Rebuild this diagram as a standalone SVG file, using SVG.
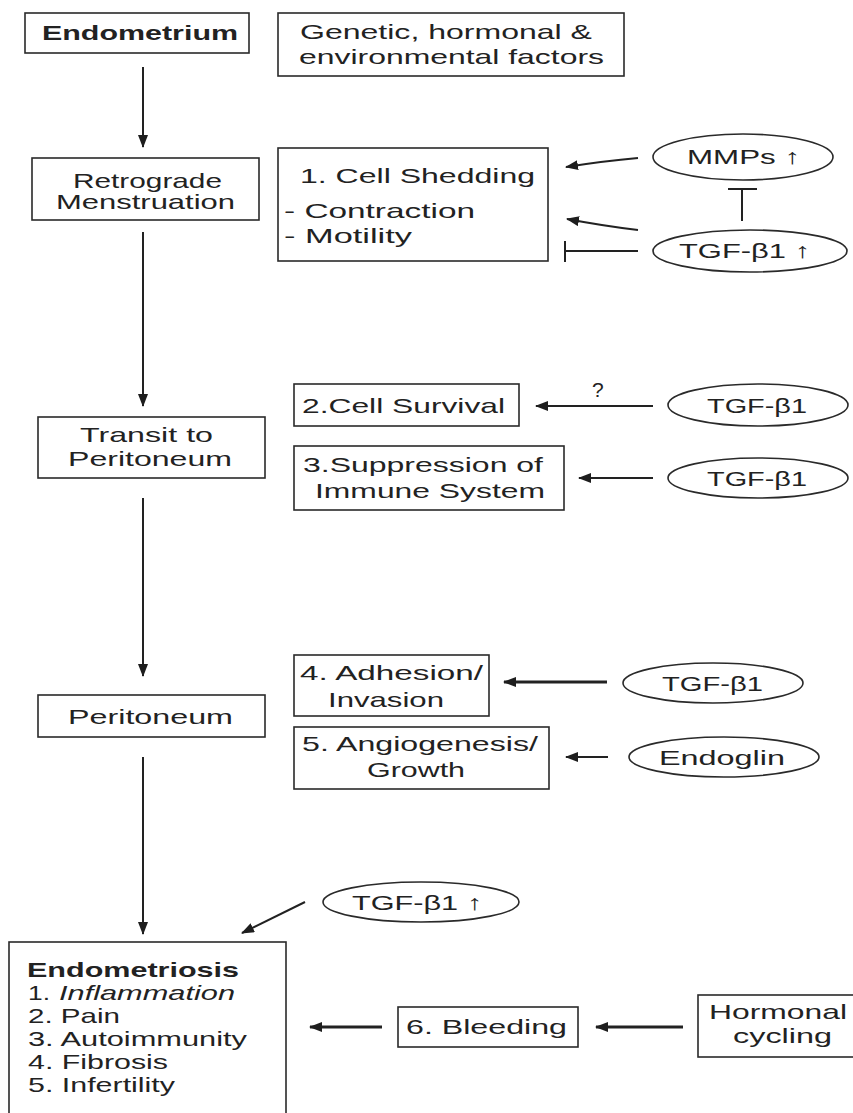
<svg xmlns="http://www.w3.org/2000/svg" width="853" height="1113" viewBox="0 0 853 1113">
<style>
text{font-family:"Liberation Sans",Arial,sans-serif;fill:#222;font-size:21px}
.b{font-weight:bold}
.box{fill:#fff;stroke:#2a2a2a;stroke-width:1.6}
.ell{fill:#fff;stroke:#2a2a2a;stroke-width:1.6}
.ln{fill:none;stroke:#222;stroke-width:2}
.thick{stroke-width:3}
</style>
<defs>
<marker id="ah" viewBox="0 0 13 10" refX="12" refY="5" markerWidth="13" markerHeight="10" markerUnits="userSpaceOnUse" orient="auto">
<path d="M0,0 L13,5 L0,10 z" fill="#1e1e1e"/>
</marker>
</defs>
<rect width="853" height="1113" fill="#fff"/>

<g id="connectors">
<line class="ln" x1="143" y1="67" x2="143" y2="147" marker-end="url(#ah)"/>
<line class="ln" x1="143" y1="232" x2="143" y2="406" marker-end="url(#ah)"/>
<line class="ln" x1="143" y1="498" x2="143" y2="676" marker-end="url(#ah)"/>
<line class="ln" x1="143" y1="757" x2="143" y2="934" marker-end="url(#ah)"/>
<path class="ln" d="M638,158 Q604,161 566,167" marker-end="url(#ah)"/>
<path class="ln" d="M638,230 Q604,226 567,219" marker-end="url(#ah)"/>
<line class="ln" x1="742" y1="221" x2="742" y2="190"/>
<line class="ln" x1="728" y1="189" x2="757" y2="189"/>
<line class="ln" x1="638" y1="251" x2="565" y2="251"/>
<line class="ln" x1="565" y1="241" x2="565" y2="262"/>
<line class="ln" x1="653" y1="406" x2="536" y2="406" marker-end="url(#ah)"/>
<line class="ln" x1="653" y1="478" x2="579" y2="478" marker-end="url(#ah)"/>
<line class="ln thick" x1="607" y1="682" x2="504" y2="682" marker-end="url(#ah)"/>
<line class="ln" x1="608" y1="757" x2="566" y2="757" marker-end="url(#ah)"/>
<line class="ln" x1="305" y1="902" x2="242" y2="933" marker-end="url(#ah)"/>
<line class="ln thick" x1="382" y1="1027" x2="310" y2="1027" marker-end="url(#ah)"/>
<line class="ln thick" x1="683" y1="1027" x2="596" y2="1027" marker-end="url(#ah)"/>
<text x="592" y="397" font-size="20">?</text>
</g>

<g id="endometrium">
<rect class="box" x="25" y="13" width="224" height="40"/>
<text class="b" x="42" y="40" font-size="19" textLength="196" lengthAdjust="spacingAndGlyphs">Endometrium</text>
</g>
<g id="factors">
<rect class="box" x="278" y="13" width="346" height="63"/>
<text x="300" y="39" textLength="292" lengthAdjust="spacingAndGlyphs">Genetic, hormonal &amp;</text>
<text x="299" y="64" textLength="305" lengthAdjust="spacingAndGlyphs">environmental factors</text>
</g>
<g id="retrograde">
<rect class="box" x="32" y="158" width="227" height="62"/>
<text x="73" y="188" textLength="149" lengthAdjust="spacingAndGlyphs">Retrograde</text>
<text x="56" y="209" textLength="179" lengthAdjust="spacingAndGlyphs">Menstruation</text>
</g>
<g id="shedding">
<rect class="box" x="278" y="148" width="270" height="113"/>
<text x="300" y="183" textLength="235" lengthAdjust="spacingAndGlyphs">1. Cell Shedding</text>
<text x="284" y="218" textLength="191" lengthAdjust="spacingAndGlyphs">- Contraction</text>
<text x="284" y="243" textLength="128" lengthAdjust="spacingAndGlyphs">- Motility</text>
</g>
<g id="mmps">
<ellipse class="ell" cx="743" cy="157" rx="90" ry="23"/>
<text x="687" y="164" font-size="22" textLength="113" lengthAdjust="spacingAndGlyphs">MMPs ↑</text>
</g>
<g id="tgf-up-1">
<ellipse class="ell" cx="750" cy="251" rx="97" ry="21"/>
<text x="679" y="258" font-size="22" textLength="131" lengthAdjust="spacingAndGlyphs">TGF-β1 ↑</text>
</g>
<g id="transit">
<rect class="box" x="38" y="417" width="227" height="61"/>
<text x="80" y="442" textLength="133" lengthAdjust="spacingAndGlyphs">Transit to</text>
<text x="68" y="466" textLength="164" lengthAdjust="spacingAndGlyphs">Peritoneum</text>
</g>
<g id="survival">
<rect class="box" x="294" y="384" width="225" height="42"/>
<text x="302" y="413" textLength="203" lengthAdjust="spacingAndGlyphs">2.Cell Survival</text>
</g>
<g id="tgf-2">
<ellipse class="ell" cx="758" cy="405" rx="90" ry="21"/>
<text x="707" y="413" font-size="22" textLength="100" lengthAdjust="spacingAndGlyphs">TGF-β1</text>
</g>
<g id="suppression">
<rect class="box" x="294" y="446" width="270" height="64"/>
<text x="303" y="472" textLength="240" lengthAdjust="spacingAndGlyphs">3.Suppression of</text>
<text x="315" y="498" textLength="230" lengthAdjust="spacingAndGlyphs">Immune System</text>
</g>
<g id="tgf-3">
<ellipse class="ell" cx="758" cy="478" rx="90" ry="20"/>
<text x="707" y="486" font-size="22" textLength="100" lengthAdjust="spacingAndGlyphs">TGF-β1</text>
</g>
<g id="peritoneum">
<rect class="box" x="38" y="695" width="227" height="42"/>
<text x="68" y="724" textLength="165" lengthAdjust="spacingAndGlyphs">Peritoneum</text>
</g>
<g id="adhesion">
<rect class="box" x="294" y="655" width="195" height="61"/>
<text x="300" y="680" textLength="183" lengthAdjust="spacingAndGlyphs">4. Adhesion/</text>
<text x="328" y="707" textLength="116" lengthAdjust="spacingAndGlyphs">Invasion</text>
</g>
<g id="tgf-4">
<ellipse class="ell" cx="713" cy="683" rx="90" ry="20"/>
<text x="662" y="691" font-size="22" textLength="101" lengthAdjust="spacingAndGlyphs">TGF-β1</text>
</g>
<g id="angiogenesis">
<rect class="box" x="294" y="727" width="255" height="62"/>
<text x="302" y="751" textLength="236" lengthAdjust="spacingAndGlyphs">5. Angiogenesis/</text>
<text x="367" y="777" textLength="98" lengthAdjust="spacingAndGlyphs">Growth</text>
</g>
<g id="endoglin">
<ellipse class="ell" cx="724" cy="757" rx="95" ry="20"/>
<text x="659" y="765" font-size="22" textLength="126" lengthAdjust="spacingAndGlyphs">Endoglin</text>
</g>
<g id="tgf-up-2">
<ellipse class="ell" cx="421" cy="902" rx="98" ry="20"/>
<text x="352" y="910" font-size="22" textLength="130" lengthAdjust="spacingAndGlyphs">TGF-β1 ↑</text>
</g>
<g id="endometriosis">
<rect class="box" x="9" y="942" width="277" height="200"/>
<text class="b" x="27" y="977" font-size="21" textLength="212" lengthAdjust="spacingAndGlyphs">Endometriosis</text>
<text x="28" y="1000" textLength="22" lengthAdjust="spacingAndGlyphs">1.</text>
<text x="59" y="1000" font-style="italic" textLength="176" lengthAdjust="spacingAndGlyphs">Inflammation</text>
<text x="28" y="1023" textLength="92" lengthAdjust="spacingAndGlyphs">2. Pain</text>
<text x="28" y="1046" textLength="219" lengthAdjust="spacingAndGlyphs">3. Autoimmunity</text>
<text x="28" y="1069" textLength="140" lengthAdjust="spacingAndGlyphs">4. Fibrosis</text>
<text x="28" y="1092" textLength="147" lengthAdjust="spacingAndGlyphs">5. Infertility</text>
</g>
<g id="bleeding">
<rect class="box" x="398" y="1007" width="180" height="40"/>
<text x="406" y="1034" textLength="161" lengthAdjust="spacingAndGlyphs">6. Bleeding</text>
</g>
<g id="hormonal">
<rect class="box" x="698" y="995" width="170" height="62"/>
<text x="709" y="1019" textLength="138" lengthAdjust="spacingAndGlyphs">Hormonal</text>
<text x="733" y="1043" textLength="99" lengthAdjust="spacingAndGlyphs">cycling</text>
</g>
</svg>
